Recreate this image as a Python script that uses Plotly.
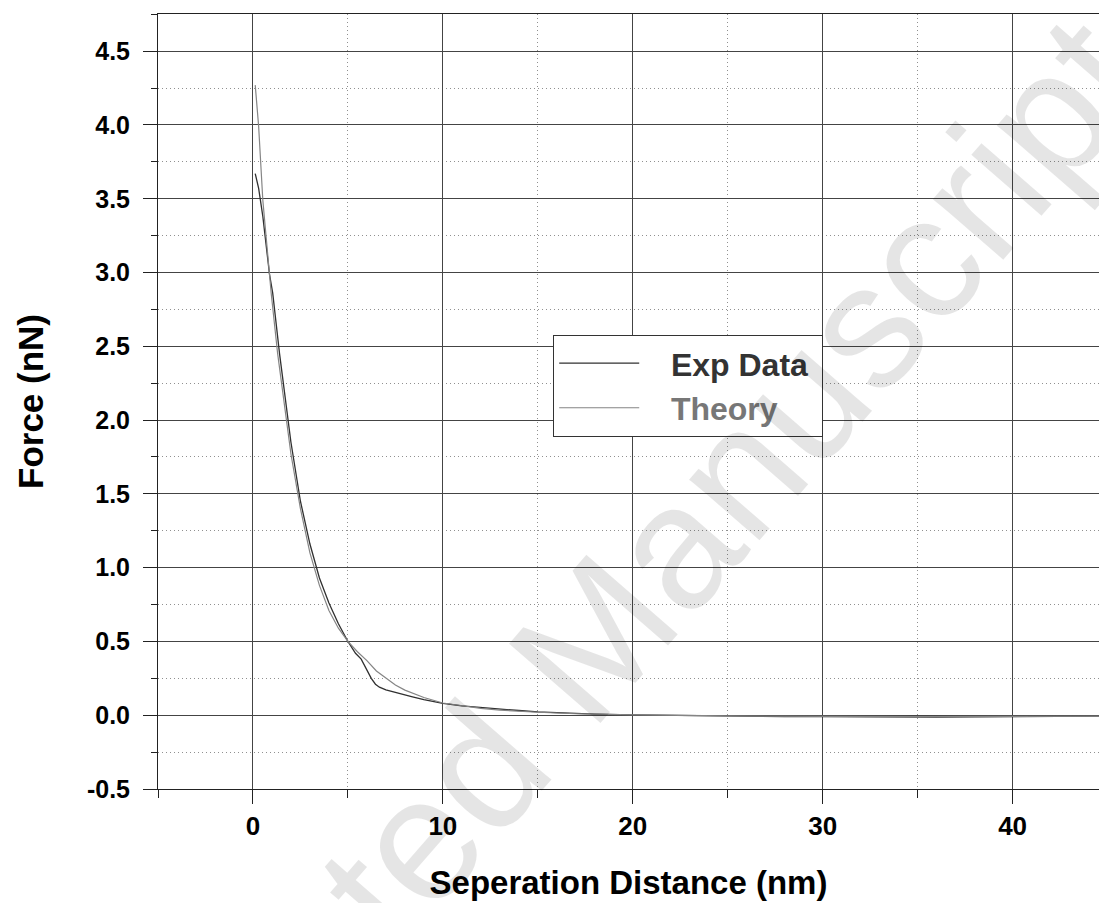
import plotly.graph_objects as go

# ---- data ----
exp_x = [0.12, 0.3, 0.52, 0.87, 1.04, 1.4, 2.0, 2.5, 3.0, 3.5, 4.0, 4.5, 5.0, 5.4, 5.7,
         5.96, 6.23, 6.45, 6.66, 7.0, 7.37, 8.4, 9.0, 10.0, 11.0, 12.5, 14.0, 15.0, 16.0, 18.0, 20.0,
         22.0, 25.0, 28.0, 30.0, 32.0, 34.0, 35.0, 36.0, 38.0, 40.0, 42.0, 44.6]
exp_y = [3.67, 3.57, 3.38, 2.99, 2.86, 2.45, 1.85, 1.45, 1.16, 0.93, 0.76, 0.62, 0.50, 0.42, 0.38,
         0.316, 0.25, 0.21, 0.19, 0.172, 0.158, 0.124, 0.105, 0.08, 0.063, 0.045, 0.032, 0.022, 0.016, 0.008, 0.002,
         -0.002, -0.006, -0.009, -0.010, -0.011, -0.012, -0.016, -0.013, -0.011, -0.010, -0.008, -0.006]

theo_x = [0.12, 0.3, 0.52, 0.73, 0.96, 1.3, 2.0, 2.5, 3.0, 3.5, 4.0, 4.5, 5.0, 5.5, 6.0, 6.5,
          7.0, 7.5, 8.0, 9.0, 10.0, 11.0, 12.0, 13.0, 14.0, 15.0, 17.0, 20.0, 25.0, 30.0, 35.0,
          40.0, 44.6]
theo_y = [4.27, 3.99, 3.49, 3.17, 2.86, 2.45, 1.77, 1.40, 1.10, 0.88, 0.71, 0.59, 0.50, 0.43, 0.37, 0.30,
          0.25, 0.205, 0.17, 0.12, 0.083, 0.062, 0.046, 0.035, 0.027, 0.020, 0.010, 0.002, -0.005, -0.008, -0.009,
          -0.008, -0.006]

x_ticks = [0, 10, 20, 30, 40]
y_ticks = [-0.5, 0.0, 0.5, 1.0, 1.5, 2.0, 2.5, 3.0, 3.5, 4.0, 4.5]
y_tick_text = ["%.1f" % v for v in y_ticks]
top_ticks = [-5, 5, 15, 25, 35]
right_ticks = [0.556, 1.592, 2.663, 3.706]

FONT = "Arial, Liberation Sans, Helvetica, sans-serif"
X_RANGE = [-5, 44.55]
Y_RANGE = [-0.5, 4.752]
NB = "\u00a0\u00a0\u00a0"

fig = go.Figure()
fig.add_trace(go.Scatter(x=exp_x, y=exp_y, mode="lines", name=NB + "<b>Exp Data</b>\u00a0",
                         line=dict(color="#303030", width=1.3)))
fig.add_trace(go.Scatter(x=theo_x, y=theo_y, mode="lines",
                         name=NB + "<b><span style='color:#777777'>Theory</span></b>",
                         line=dict(color="#858585", width=1.2)))

grid_dot = "1px,3px"

fig.update_layout(
    width=1099, height=903,
    margin=dict(l=158, r=0, t=14, b=114),
    paper_bgcolor="white", plot_bgcolor="white",
    font=dict(family=FONT, color="black"),
    showlegend=True,
    legend=dict(x=0.42, y=0.586, xanchor="left", yanchor="top",
                bgcolor="white", bordercolor="#333333", borderwidth=1,
                font=dict(family=FONT, size=32, color="#333333"),
                itemwidth=80, tracegroupgap=0),
    xaxis=dict(range=X_RANGE, tickmode="array", tickvals=x_ticks,
               ticks="outside", ticklen=14, tickwidth=1, tickcolor="#222222",
               showline=True, linecolor="#222222", linewidth=1, mirror=True,
               showgrid=True, gridcolor="#444444", gridwidth=1, zeroline=False,
               tickfont=dict(family=FONT, size=26, color="black", weight="bold"),
               title=dict(text="<b>Seperation Distance (nm)</b>",
                          font=dict(family=FONT, size=33, color="black"), standoff=30),
               minor=dict(dtick=5, tick0=0, ticks="outside", ticklen=8, tickcolor="#222222",
                          showgrid=True, gridcolor="#909090", griddash=grid_dot, gridwidth=1)),
    yaxis=dict(range=Y_RANGE, tickmode="array", tickvals=y_ticks, ticktext=y_tick_text,
               ticks="outside", ticklen=14, tickwidth=1, tickcolor="#222222",
               showline=True, linecolor="#222222", linewidth=1, mirror=True,
               showgrid=True, gridcolor="#444444", gridwidth=1, zeroline=False,
               tickfont=dict(family=FONT, size=25, color="black", weight="bold"), ticklabelstandoff=8,
               title=dict(text="<b>Force (nN)</b>",
                          font=dict(family=FONT, size=35, color="black"), standoff=32),
               minor=dict(dtick=0.25, tick0=0, ticks="outside", ticklen=6, tickcolor="#222222",
                          showgrid=True, gridcolor="#909090", griddash=grid_dot, gridwidth=1)),
    xaxis2=dict(overlaying="x", side="top", range=X_RANGE, tickmode="array", tickvals=top_ticks,
                ticks="inside", ticklen=14, tickcolor="#222222", showticklabels=False,
                showgrid=False, zeroline=False, showline=False),
    yaxis2=dict(overlaying="y", side="right", anchor="free", position=1.0, range=Y_RANGE,
                tickmode="array", tickvals=right_ticks, ticks="inside", ticklen=7,
                tickcolor="#222222", showticklabels=False, showgrid=False, zeroline=False,
                showline=False),
)

# watermark
fig.add_annotation(text="Accepted Manuscript", xref="paper", yref="paper",
                   x=0.438, y=0.160, xanchor="center", yanchor="middle",
                   textangle=-49, showarrow=False,
                   font=dict(family=FONT, size=176, color="rgba(0,0,0,0.1)"))

fig.write_html("out.html")
